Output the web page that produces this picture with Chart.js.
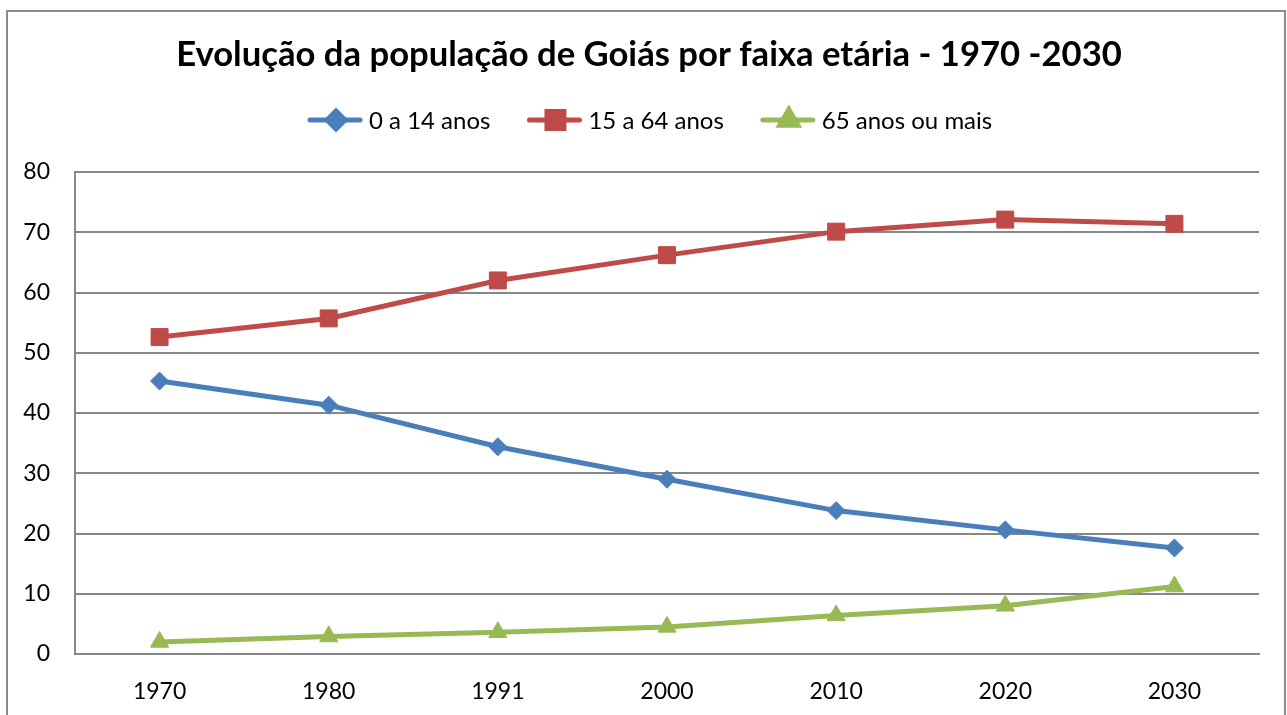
<!DOCTYPE html>
<html><head><meta charset="utf-8">
<script src="https://cdn.jsdelivr.net/npm/chart.js@4"></script>
<style>html,body{margin:0;padding:0;background:#fff;}#wrap{position:absolute;left:0;top:0;width:1287px;height:715px;}</style>
</head><body><div id="wrap"><canvas id="c" width="1287" height="715"></canvas></div>
<script>
const categories = ['1970','1980','1991','2000','2010','2020','2030'];
const age0to14 = [45.3, 41.3, 34.4, 29.0, 23.8, 20.6, 17.6];
const age15to64 = [52.6, 55.7, 62.0, 66.2, 70.1, 72.1, 71.4];
const age65plus = [2.0, 2.9, 3.6, 4.5, 6.4, 8.0, 11.2];
const seriesNames = ['0 a 14 anos', '15 a 64 anos', '65 anos ou mais'];
const titleText = 'Evolução da população de Goiás por faixa etária - 1970 -2030';

const FONT = 'Lato, "Open Sans", sans-serif';
const BLUE = '#4A7EBB', RED = '#BE4B48', GREEN = '#98B954', GRID = '#878787';

const decor = {
  id: 'decor',
  afterDraw(chart) {
    const ctx = chart.ctx;
    ctx.save();
    // outer frame
    ctx.strokeStyle = '#8c8c8c';
    ctx.lineWidth = 2;
    ctx.beginPath();
    ctx.moveTo(7, 716); ctx.lineTo(7, 11); ctx.lineTo(1285, 11); ctx.lineTo(1285, 716);
    ctx.stroke();
    // title
    ctx.fillStyle = '#000';
    ctx.font = 'bold 30px ' + FONT;
    const w = ctx.measureText(titleText).width;
    const fs = 30 * 946 / w;
    ctx.font = 'bold ' + fs.toFixed(2) + 'px ' + FONT;
    ctx.textAlign = 'center'; ctx.textBaseline = 'middle';
    ctx.fillText(titleText, 649, 55);
    // legend
    ctx.font = '24px ' + FONT;
    ctx.textAlign = 'left';
    const ds = chart.data.datasets;
    let x = 310;
    ds.forEach((d, i) => {
      const y = 120;
      ctx.strokeStyle = d.borderColor; ctx.lineWidth = 5; ctx.lineCap = 'round';
      ctx.beginPath(); ctx.moveTo(x, y); ctx.lineTo(x + 50, y); ctx.stroke();
      Chart.helpers.drawPoint(ctx, {pointStyle: d.pointStyle, rotation: 0, borderWidth: 1, radius: d.pointRadius}, x + 26, y);
      ctx.fillStyle = d.borderColor; ctx.fill();
      ctx.fillStyle = '#000';
      ctx.fillText(seriesNames[i], x + 59, y + 1);
      x += 59 + ctx.measureText(seriesNames[i]).width + 39;
    });
    ctx.restore();
  }
};

new Chart(document.getElementById('c'), {
  type: 'line',
  data: {
    labels: categories,
    datasets: [
      {label: seriesNames[0], data: age0to14, borderColor: BLUE, backgroundColor: BLUE, pointStyle: 'rectRot', pointRadius: 9, borderWidth: 5, pointBorderWidth: 1, tension: 0},
      {label: seriesNames[1], data: age15to64, borderColor: RED, backgroundColor: RED, pointStyle: 'rect', pointRadius: 12, borderWidth: 5, pointBorderWidth: 1, tension: 0},
      {label: seriesNames[2], data: age65plus, borderColor: GREEN, backgroundColor: GREEN, pointStyle: 'triangle', pointRadius: 10.5, borderWidth: 5, pointBorderWidth: 1, tension: 0}
    ]
  },
  options: {
    responsive: false,
    animation: false,
    devicePixelRatio: 1,
    layout: {padding: {left: 0, right: 28, top: 172, bottom: 0}},
    plugins: {legend: {display: false}, title: {display: false}, tooltip: {enabled: false}},
    scales: {
      x: {
        offset: true,
        grid: {display: false, drawTicks: false},
        border: {display: true, color: GRID, width: 2},
        ticks: {color: '#000', font: {family: FONT, size: 23}, padding: 24, maxRotation: 0},
        afterFit(s) { s.height = 61; }
      },
      y: {
        min: 0, max: 80,
        grid: {color: GRID, lineWidth: 2, drawTicks: false},
        border: {display: true, color: GRID, width: 2},
        ticks: {stepSize: 10, color: '#000', font: {family: FONT, size: 23}, padding: 25},
        afterFit(s) { s.width = 75; }
      }
    }
  },
  plugins: [decor]
});
</script></body></html>
